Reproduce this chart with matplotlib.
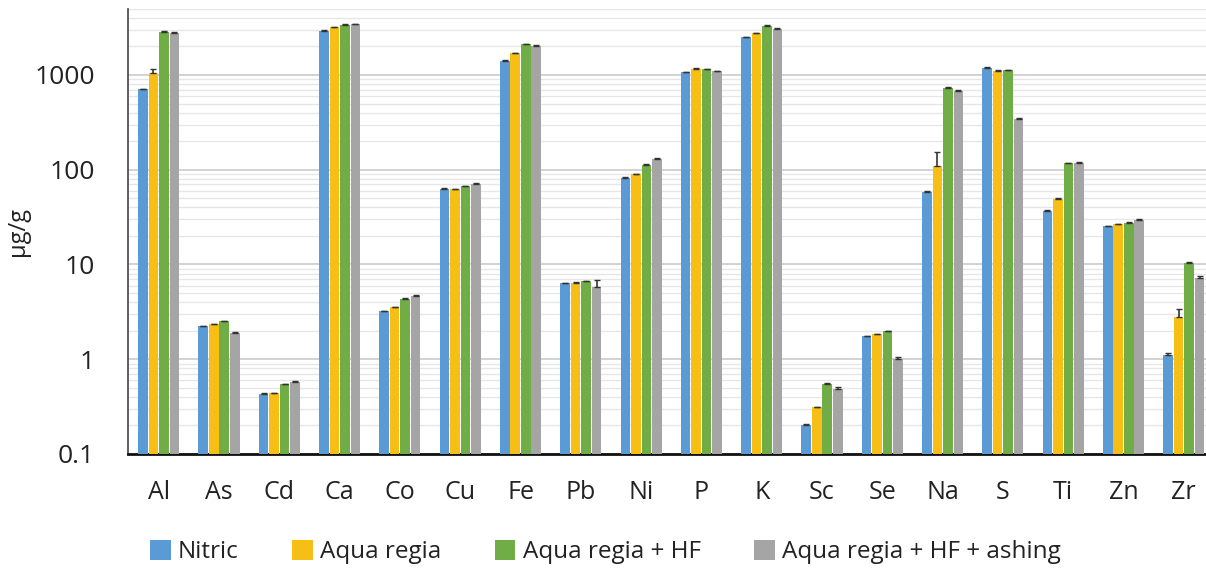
import numpy as np
import matplotlib
matplotlib.use('Agg')
import matplotlib.pyplot as plt
from matplotlib.ticker import LogLocator, FixedLocator, NullFormatter

plt.rcParams['font.family'] = ['Open Sans', 'DejaVu Sans']

# data (ug/g)
elements = ['Al', 'As', 'Cd', 'Ca', 'Co', 'Cu', 'Fe', 'Pb', 'Ni', 'P', 'K', 'Sc', 'Se', 'Na', 'S', 'Ti', 'Zn', 'Zr']
methods = ['Nitric', 'Aqua regia', 'Aqua regia + HF', 'Aqua regia + HF + ashing']

nitric = [706, 2.24, 0.43, 2940, 3.23, 63, 1420, 6.33, 82.5, 1076, 2500, 0.202, 1.76, 57.8, 1195, 36.7, 25.5, 1.12]
aqua_regia = [1042, 2.34, 0.437, 3190, 3.53, 62, 1694, 6.43, 90.2, 1157, 2755, 0.311, 1.83, 109.6, 1102, 48.8, 26.7, 2.81]
aqua_regia_hf = [2865, 2.53, 0.544, 3400, 4.36, 66.8, 2106, 6.69, 113, 1148, 3325, 0.548, 1.99, 735, 1130, 117, 27.6, 10.3]
aqua_regia_hf_ash = [2774, 1.91, 0.58, 3427, 4.65, 70.2, 2023, 5.83, 130, 1102, 3091, 0.485, 1.0, 678, 341, 117, 29.5, 7.26]

# standard deviations (mostly tiny)
err_nitric = [10, 0.02, 0.005, 20, 0.03, 0.5, 15, 0.05, 0.8, 10, 20, 0.003, 0.02, 1.5, 10, 0.8, 0.2, 0.04]
err_aqua_regia = [110, 0.02, 0.005, 40, 0.04, 0.5, 20, 0.06, 1.0, 15, 25, 0.004, 0.02, 45, 25, 2.0, 0.3, 0.6]
err_aqua_regia_hf = [30, 0.03, 0.008, 30, 0.08, 0.6, 40, 0.08, 2.5, 12, 30, 0.02, 0.02, 15, 12, 2.0, 0.3, 0.4]
err_aqua_regia_hf_ash = [40, 0.04, 0.008, 50, 0.06, 1.5, 25, 1.1, 2.5, 12, 30, 0.02, 0.06, 12, 12, 2.5, 0.4, 0.3]

colors = ['#5B9BD5', '#F7BE16', '#70AD47', '#A5A5A5']

series = [nitric, aqua_regia, aqua_regia_hf, aqua_regia_hf_ash]
errors = [err_nitric, err_aqua_regia, err_aqua_regia_hf, err_aqua_regia_hf_ash]

fig = plt.figure(figsize=(12.06, 5.73), dpi=100)
ax = fig.add_axes([0.1061, 0.2077, 0.9005, 0.777])

x = np.arange(len(elements))
bar_w = 0.174
for i, (vals, errs) in enumerate(zip(series, errors)):
    pos = x + (i - 1.5) * bar_w
    ax.bar(pos, vals, width=bar_w * 0.92, color=colors[i], label=methods[i], zorder=3)
    ax.errorbar(pos, vals, yerr=[np.zeros(len(errs)), errs], fmt='none', ecolor='#333333',
                elinewidth=1.2, capsize=2, capthick=1, zorder=4)

ax.set_yscale('log')
ax.set_ylim(0.1, 5000)
ax.set_xlim(-0.51, 17.5)

ax.yaxis.set_major_locator(FixedLocator([0.1, 1, 10, 100, 1000]))
ax.set_yticklabels(['0.1', '1', '10', '100', '1000'])
ax.yaxis.set_minor_locator(LogLocator(base=10, subs=np.arange(2, 10)))
ax.yaxis.set_minor_formatter(NullFormatter())
ax.grid(which='major', axis='y', color='#CFCFCF', linewidth=1.3, zorder=0)
ax.grid(which='minor', axis='y', color='#E6E6E6', linewidth=1.0, zorder=0)

ax.set_xticks(x)
ax.set_xticklabels(elements)
ax.tick_params(axis='x', length=0, pad=19, labelsize=18, colors='#222222')
ax.tick_params(axis='y', which='both', length=0, pad=24, labelsize=19, colors='#222222')

ax.spines['top'].set_visible(False)
ax.spines['right'].set_visible(False)
ax.spines['left'].set_color('#444444')
ax.spines['left'].set_linewidth(1.2)
ax.spines['bottom'].set_color('#111111')
ax.spines['bottom'].set_linewidth(2)

ax.set_ylabel('\u03bcg/g', fontsize=17, labelpad=3, color='#222222')

fig.legend(loc='center', bbox_to_anchor=(0.502, 0.036), ncol=4, frameon=False, fontsize=17.5,
           handlelength=0.85, handleheight=0.85, handletextpad=0.3, columnspacing=2.2,
           labelcolor='#222222')

fig.savefig('out.png', dpi=100)
